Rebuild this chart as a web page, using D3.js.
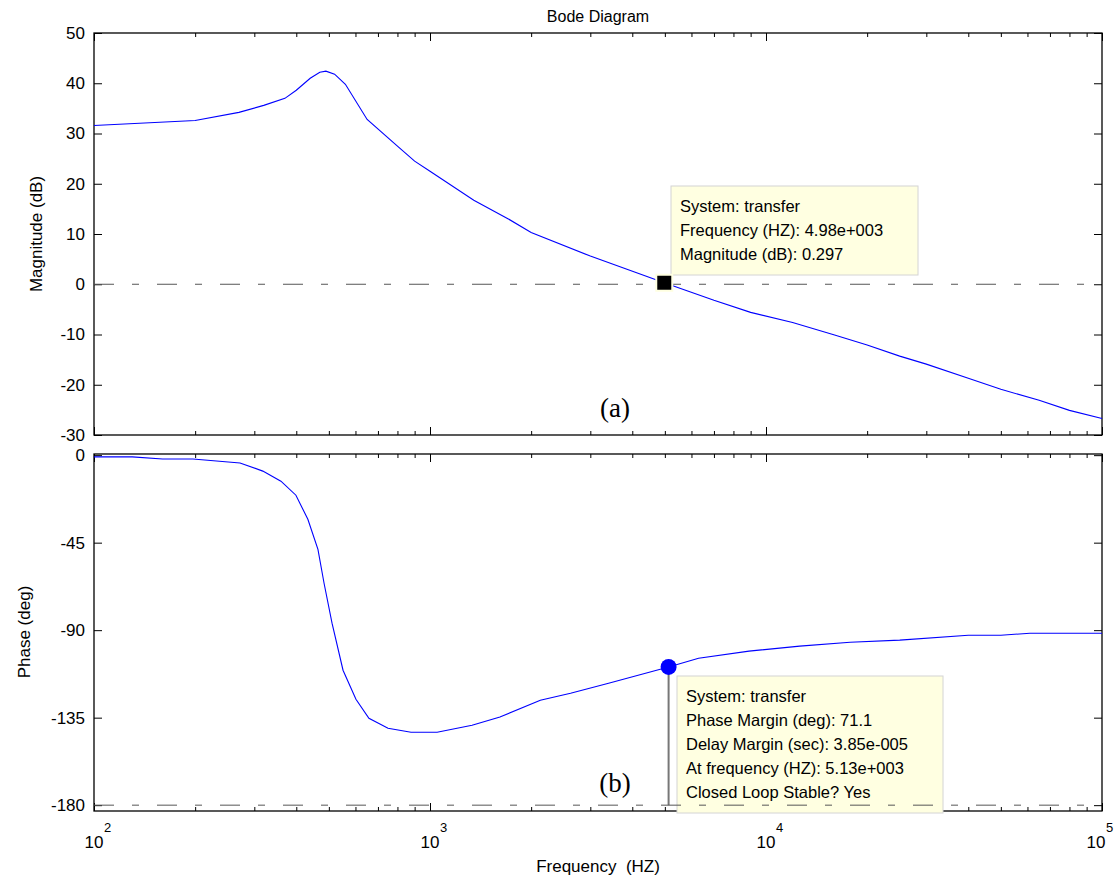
<!DOCTYPE html>
<html>
<head>
<meta charset="utf-8">
<script src="https://cdn.jsdelivr.net/npm/d3@7"></script>
<style>
  body { margin: 0; background: #fff; }
  svg text { font-family: "Liberation Sans", Arial, sans-serif; fill: #000; }
</style>
</head>
<body>
<svg id="chart" width="1117" height="881"></svg>
<script>
// magnitude trace (Hz, dB)
const magFreq = [100, 200, 270, 320, 370, 400, 440, 470, 490, 520, 560, 650, 800, 900, 1000, 1350, 1700, 2000, 3000, 4980, 7000, 9000, 12000, 16000, 20000, 25000, 30000, 40000, 50000, 65000, 80000, 100000];
const magDb = [31.6, 32.6, 34.2, 35.6, 37, 38.6, 41, 42.2, 42.4, 41.8, 39.8, 32.8, 27.5, 24.5, 22.5, 16.7, 13.1, 10.3, 5.6, 0.3, -3.2, -5.6, -7.6, -10.1, -12.1, -14.3, -15.9, -18.7, -20.9, -23.1, -25.1, -26.7];

// phase trace (Hz, deg)
const phaseFreq = [100, 130, 160, 197, 272, 318, 360, 399, 433, 464, 484, 511, 551, 602, 658, 750, 878, 1050, 1334, 1615, 2130, 2620, 3400, 5130, 6300, 8900, 12600, 17800, 25000, 40000, 50000, 61000, 100000];
const phaseDeg = [-0.9, -0.9, -2, -2, -4, -8.2, -13.4, -20.6, -33, -48.4, -66, -86.4, -110.6, -125.5, -135.3, -140.4, -142.5, -142.5, -138.9, -134.7, -126, -122.4, -117.3, -108.9, -104.4, -100.8, -98.2, -96.2, -95.1, -92.6, -92.6, -91.6, -91.6];

const magTicks = [50, 40, 30, 20, 10, 0, -10, -20, -30];
const phaseTicks = [0, -45, -90, -135, -180];
const decadeTicks = [100, 1000, 10000, 100000];
const decadeExp = ['2', '3', '4', '5'];

// data tips
const magTip = { f: 4980, v: 0.297 };
const magTipText = ['System: transfer', 'Frequency (HZ): 4.98e+003', 'Magnitude (dB): 0.297'];
const phaseTip = { f: 5130, v: -108.9 };
const phaseTipText = ['System: transfer', 'Phase Margin (deg): 71.1', 'Delay Margin (sec): 3.85e-005', 'At frequency (HZ): 5.13e+003', 'Closed Loop Stable? Yes'];

let minorTicks = [];
decadeTicks.slice(0, 3).forEach(function (d) {
    for (let k = 2; k <= 9; k++) minorTicks.push(d * k);
});

let svg = d3.select('#chart');
let x = d3.scaleLog().domain([100, 100000]).range([94, 1102]);
let yMag = d3.scaleLinear().domain([-30, 50]).range([435, 33]);
let yPh = d3.scaleLinear().domain([-183, 0.6]).range([811, 454]);

let line = function (ys) {
    return d3.line().x(d => x(d[0])).y(d => ys(d[1]));
};

function drawFrame(ys, ticks, showLabels) {
    let top = ys.range()[1], bot = ys.range()[0];
    let g = svg.append('g');

    // y ticks both sides, plain hyphen minus like matlab
    let la = g.append('g').attr('transform', 'translate(94,0)')
        .call(d3.axisLeft(ys).tickValues(ticks).tickSize(-8).tickPadding(9).tickFormat(d => String(d)));
    let ra = g.append('g').attr('transform', 'translate(1102,0)')
        .call(d3.axisRight(ys).tickValues(ticks).tickSize(-8).tickFormat(''));

    // x ticks top and bottom
    let axes = [
        g.append('g').attr('transform', 'translate(0,' + top + ')').call(d3.axisTop(x).tickValues(decadeTicks).tickSize(-8).tickFormat('')),
        g.append('g').attr('transform', 'translate(0,' + top + ')').call(d3.axisTop(x).tickValues(minorTicks).tickSize(-4).tickFormat('')),
        g.append('g').attr('transform', 'translate(0,' + bot + ')').call(d3.axisBottom(x).tickValues(decadeTicks).tickSize(-8).tickFormat('')),
        g.append('g').attr('transform', 'translate(0,' + bot + ')').call(d3.axisBottom(x).tickValues(minorTicks).tickSize(-4).tickFormat(''))
    ];
    [la, ra].concat(axes).forEach(function (a) {
        a.select('.domain').remove();
        a.selectAll('line').attr('stroke', '#000');
    });
    la.selectAll('text').attr('font-size', 17).attr('font-family', '"Liberation Sans", Arial, sans-serif');

    g.append('rect').attr('x', 94).attr('y', top).attr('width', 1008).attr('height', bot - top)
        .attr('fill', 'none').attr('stroke', '#000').attr('stroke-width', 1.3);

    if (showLabels) {
        decadeTicks.forEach(function (d, i) {
            // last label nudged left so the exponent stays on the page
            let cx = x(d) - (i == decadeTicks.length - 1 ? 6 : 0);
            g.append('text').attr('x', cx).attr('y', 848).attr('text-anchor', 'middle')
                .attr('font-size', 17).text('10');
            g.append('text').attr('x', cx + 10).attr('y', 832)
                .attr('font-size', 13).text(decadeExp[i]);
        });
    }
}

drawFrame(yMag, magTicks, false);
drawFrame(yPh, phaseTicks, true);

// reference dash-dot line at 0 dB
svg.append('line').attr('x1', 94).attr('x2', 1102).attr('y1', yMag(0)).attr('y2', yMag(0))
    .attr('stroke', '#555').attr('stroke-dasharray', '20,18,7,18');

// magnitude curve
svg.append('path').datum(d3.zip(magFreq, magDb))
    .attr('d', line(yMag)).attr('fill', 'none').attr('stroke', '#0000ff').attr('stroke-width', 1.1);

// phase curve
svg.append('path').datum(d3.zip(phaseFreq, phaseDeg))
    .attr('d', line(yPh)).attr('fill', 'none').attr('stroke', '#0000ff').attr('stroke-width', 1.1);

function tipBox(bx, by, w, lines) {
    svg.append('rect').attr('x', bx).attr('y', by).attr('width', w).attr('height', lines.length * 24 + 17)
        .attr('fill', '#ffffe1').attr('stroke', '#d4d4d4');
    lines.forEach(function (t, i) {
        svg.append('text').attr('x', bx + 9).attr('y', by + 26 + i * 24)
            .attr('font-size', 16.5).text(t);
    });
}

// magnitude data tip
tipBox(671, 186, 247, magTipText);
svg.append('rect').attr('x', x(magTip.f) - 8).attr('y', yMag(magTip.v) - 8).attr('width', 16).attr('height', 16)
    .attr('fill', '#000').attr('stroke', '#ffffe1').attr('stroke-width', 2);

// phase margin tip
svg.append('line').attr('x1', x(phaseTip.f)).attr('x2', x(phaseTip.f))
    .attr('y1', yPh(phaseTip.v)).attr('y2', yPh(-180))
    .attr('stroke', '#777').attr('stroke-width', 2);
tipBox(677, 676, 266, phaseTipText);
svg.append('line').attr('x1', 94).attr('x2', 1102).attr('y1', yPh(-180)).attr('y2', yPh(-180))
    .attr('stroke', '#555').attr('stroke-dasharray', '20,18,7,18');
svg.append('circle').attr('cx', x(phaseTip.f)).attr('cy', yPh(phaseTip.v)).attr('r', 8)
    .attr('fill', '#0000ff');

// titles and labels
svg.append('text').attr('x', 598).attr('y', 22).attr('text-anchor', 'middle').attr('font-size', 16).text('Bode Diagram');
svg.append('text').attr('transform', 'translate(42,234) rotate(-90)').attr('text-anchor', 'middle')
    .attr('font-size', 17).text('Magnitude (dB)');
svg.append('text').attr('transform', 'translate(30,632) rotate(-90)').attr('text-anchor', 'middle')
    .attr('font-size', 17).text('Phase (deg)');
svg.append('text').attr('x', 598).attr('y', 872).attr('text-anchor', 'middle').attr('font-size', 17)
    .attr('xml:space', 'preserve').style('white-space', 'pre').text('Frequency  (HZ)');

svg.append('text').attr('x', 615).attr('y', 417).attr('text-anchor', 'middle')
    .style('font-family', '"Liberation Serif", "Times New Roman", serif').attr('font-size', 27).text('(a)');
svg.append('text').attr('x', 615).attr('y', 792).attr('text-anchor', 'middle')
    .style('font-family', '"Liberation Serif", "Times New Roman", serif').attr('font-size', 27).text('(b)');
</script>
</body>
</html>
